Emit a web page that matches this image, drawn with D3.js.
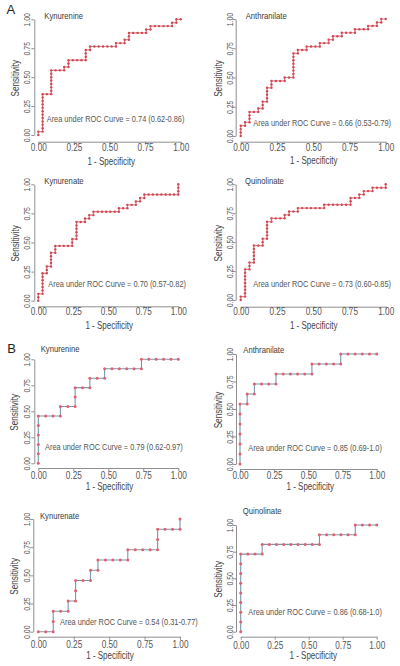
<!DOCTYPE html>
<html>
<head>
<meta charset="utf-8">
<script src="https://cdn.jsdelivr.net/npm/d3@7"></script>
<style>
  html, body { margin: 0; padding: 0; background: #fff; }
  svg { display: block; }
</style>
</head>
<body>
<script>
// ---------------- DATA ----------------
const tickValues = [0, 0.25, 0.5, 0.75, 1];
const tickLabels = ["0.00", "0.25", "0.50", "0.75", "1.00"];
const panelLetters = ["A", "B"];
const titles = ["Kynurenine", "Anthranilate", "Kynurenate", "Quinolinate",
                "Kynurenine", "Anthranilate", "Kynurenate", "Quinolinate"];
const aucTexts = ["0.74 (0.62-0.86)", "0.66 (0.53-0.79)", "0.70 (0.57-0.82)", "0.73 (0.60-0.85)",
                  "0.79 (0.62-0.97)", "0.85 (0.69-1.0)", "0.54 (0.31-0.77)", "0.86 (0.68-1.0)"];
// ROC points, one character per threshold, starting from (0,0):
// "U" = next point one case higher in sensitivity, "R" = one control further in 1 - specificity
const rocA1 = "U R UUUUUUUUUUU RR UUUUUUU RRR U R UU RRRR UUU R U RRRRRR U RR U R UU RRRR U R U RRRRR U R U R";
const rocA2 = "UUU R U R UUU RR U R UU R UUUU R UU RRR U RR UUUUUUU R U RR U RRR U RR U R U RR U RRR U RRR U RR U R U R";
const rocA3 = "UU R UUUUUU R UU R UUUU R UU RRRR UU R UUUUU RR U R U R U RRRRRR U RR U RR U R U R U RRRRRRRR UUU";
const rocA4 = "U R UUUUUUUU R UU R UUUUU RR UU R UUUUU R U RRR U R U RR U RRRRRR U RRRRRR UU RR U R U RR U RRR U";
const rocB1 = "UUUUU RRR U RR UU RR U RR U RRRRR U RRRRR";
const rocB2 = "UUUUUU R U R U RRR U RRRRR U RRRR U RRRRR";
const rocB3 = "RR UU RR U R UU RR U R U RRRR U RRRR UU RRR U";
const rocB4 = "UUUUUUUU RRR U RRRRRRRR U RRRRR U RRR";
const rocSeqs = [rocA1, rocA2, rocA3, rocA4, rocB1, rocB2, rocB3, rocB4];

// ---------------- LAYOUT ----------------
const layout = [
  {x0:38.3, x1:180.7, y0:135,   y1:19.3,  yAx:34.3,  xAx:141.7, xTk:147,   xLx:111.2, xLy:161,   yLx:15,    yTk:26.7, tX:44.3,  tY:15.7,  aX:46.7,  aY:118.7},
  {x0:240.7,x1:385.7, y0:136,   y1:19,    yAx:235.7, xAx:141.7, xTk:147,   xLx:313.7, xLy:160.7, yLx:218.3, yTk:230,  tX:245.7, tY:15.7,  aX:253.3, aY:122.7},
  {x0:38.3, x1:178.3, y0:300.7, y1:184.3, yAx:34.3,  xAx:306.3, xTk:311.7, xLx:109.2, xLy:325,   yLx:15,    yTk:26.7, tX:44.3,  tY:180.7, aX:48.3,  aY:283.7},
  {x0:240.7,x1:385.7, y0:300,   y1:184.3, yAx:235.7, xAx:306.7, xTk:311.7, xLx:313.7, xLy:325,   yLx:218.3, yTk:230,  tX:245,   tY:180.7, aX:253.3, aY:283.3},
  {x0:38.3, x1:178.3, y0:463.3, y1:359.3, yAx:34.3,  xAx:468,   xTk:475.5, xLx:109.5, xLy:486.7, yLx:14,    yTk:26.7, tX:40.7,  tY:348.3, aX:45,    aY:446.7},
  {x0:240,  x1:376.7, y0:464,   y1:354,   yAx:236,   xAx:469,   xTk:475.7, xLx:310.3, xLy:486.7, yLx:218.3, yTk:230,  tX:243.3, tY:350,   aX:248.3, aY:447.3},
  {x0:38.3, x1:180,   y0:631.7, y1:519,   yAx:33.3,  xAx:636.7, xTk:644,   xLx:110,   xLy:655,   yLx:14,    yTk:26.7, tX:40,    tY:515.7, aX:60,    aY:621.7},
  {x0:240.7,x1:376.7, y0:631.7, y1:525,   yAx:236,   xAx:636.7, xTk:645,   xLx:313.3, xLy:655,   yLx:218.3, yTk:230,  tX:242.7, tY:511,   aX:248.3, aY:611.7}
];
const letterPos = [{x: 10.8, y: 9}, {x: 11.5, y: 348.3}];

const FONT = "'Liberation Sans', Arial, sans-serif";
const K = 0.8;          // horizontal condensing of the glyphs
const AXIS_COL = "#8f8f8f";
const TEXT_COL = "#555555";

const svg = d3.select("body").append("svg")
  .attr("width", 400).attr("height", 666)
  .style("background", "#fff");

// helper: text whose visual centre (cap height) sits at cy
function label(g, txt, x, cy, size, anchor, rotate, color) {
  const off = 0.358 * size;
  let tr;
  if (rotate) tr = `translate(${x + off},${cy}) rotate(-90) scale(${K},1)`;
  else tr = `translate(${x},${cy + off}) scale(${K},1)`;
  return g.append("text")
    .attr("transform", tr)
    .attr("text-anchor", anchor)
    .attr("font-family", FONT)
    .attr("font-size", size)
    .attr("fill", color || TEXT_COL)
    .text(txt);
}

function toPoints(seq) {
  const moves = seq.replace(/\s+/g, "");
  const nNeg = moves.split("").filter(c => c === "R").length;
  const nPos = moves.split("").filter(c => c === "U").length;
  const pts = [[0, 0]];
  let i = 0, j = 0;
  for (const c of moves) {
    if (c === "R") i++; else j++;
    pts.push([i / nNeg, j / nPos]);
  }
  return pts;
}

rocSeqs.forEach((seq, p) => {
  const L = layout[p];
  const isB = p >= 4;
  const g = svg.append("g");
  const x = d3.scaleLinear().domain([0, 1]).range([L.x0, L.x1]);
  const y = d3.scaleLinear().domain([0, 1]).range([L.y0, L.y1]);

  // x axis
  const xa = g.append("g").attr("transform", `translate(0,${L.xAx})`)
    .call(d3.axisBottom(x).tickValues(tickValues)
      .tickFormat((d, i) => tickLabels[i]).tickSizeInner(3).tickSizeOuter(0));
  xa.select(".domain").attr("stroke", AXIS_COL);
  xa.selectAll(".tick line").attr("stroke", AXIS_COL);
  const fx = 10.3;
  xa.selectAll(".tick text")
    .attr("y", null).attr("dy", null).attr("x", null)
    .attr("font-family", FONT).attr("font-size", fx).attr("fill", TEXT_COL)
    .attr("transform", `translate(0,${L.xTk - L.xAx + 0.358 * fx}) scale(${K},1)`);

  // y axis
  const ya = g.append("g").attr("transform", `translate(${L.yAx},0)`)
    .call(d3.axisLeft(y).tickValues(tickValues)
      .tickFormat((d, i) => tickLabels[i]).tickSizeInner(3).tickSizeOuter(0));
  ya.select(".domain").attr("stroke", AXIS_COL);
  ya.selectAll(".tick line").attr("stroke", AXIS_COL);
  const fy = 8.6;
  ya.selectAll(".tick text")
    .attr("x", null).attr("dy", null).attr("y", null)
    .attr("text-anchor", "middle")
    .attr("font-family", FONT).attr("font-size", fy).attr("fill", TEXT_COL)
    .attr("transform", `translate(${L.yTk - L.yAx + 0.358 * fy},0) rotate(-90) scale(${K},1)`);
  g.selectAll(".domain, .tick line").attr("stroke-width", 1);

  // axis titles
  label(g, "1 - Specificity", L.xLx, L.xLy, 10, "middle", false, "#444");
  label(g, "Sensitivity", L.yLx, (L.y0 + L.y1) / 2 + 1, 10.2, "middle", true, "#444");

  // panel title and AUC annotation
  label(g, titles[p], L.tX, L.tY, 9.6, "start", false, "#3a3a3a");
  label(g, "Area under ROC Curve = " + aucTexts[p], L.aX, L.aY, 9.25, "start", false);

  // ROC curve
  const pts = toPoints(seq);
  const line = d3.line().x(d => x(d[0])).y(d => y(d[1]));
  g.append("path").datum(pts)
    .attr("d", line)
    .attr("fill", "none")
    .attr("stroke", isB ? "#7896ad" : "#e5868c")
    .attr("stroke-width", isB ? 1.1 : 1.2);
  g.selectAll("circle.pt").data(pts).enter().append("circle")
    .attr("class", "pt")
    .attr("cx", d => x(d[0])).attr("cy", d => y(d[1]))
    .attr("r", isB ? 1.5 : 1.2)
    .attr("fill", isB ? "#e0606e" : "#cf4753");
});

panelLetters.forEach((t, i) => {
  svg.append("text")
    .attr("x", letterPos[i].x).attr("y", letterPos[i].y + 0.358 * 13)
    .attr("text-anchor", "middle")
    .attr("font-family", FONT).attr("font-size", 13).attr("fill", "#222")
    .text(t);
});
</script>
</body>
</html>
